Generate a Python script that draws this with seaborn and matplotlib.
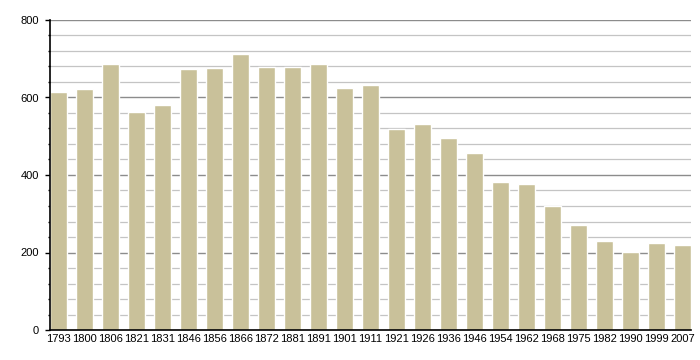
import matplotlib
matplotlib.use("Agg")
import matplotlib.pyplot as plt
import seaborn as sns
import pandas as pd

years = ["1793", "1800", "1806", "1821", "1831", "1846", "1856", "1866",
         "1872", "1881", "1891", "1901", "1911", "1921", "1926", "1936",
         "1946", "1954", "1962", "1968", "1975", "1982", "1990", "1999", "2007"]
population = [614, 622, 686, 562, 581, 673, 677, 712,
              678, 678, 686, 624, 632, 519, 532, 495,
              457, 382, 377, 320, 271, 230, 201, 225, 219]

df = pd.DataFrame({"year": years, "pop": population})

sns.set_style("white")
plt.rcParams['font.family'] = ['Liberation Sans', 'DejaVu Sans']

fig = plt.figure(figsize=(7, 3.6), dpi=100)
ax = fig.add_axes([50 / 700, 30 / 360, 641 / 700, 310 / 360])

# grid lines: light every 40, darker every 200
for v in range(40, 801, 40):
    if v % 200 == 0:
        ax.axhline(v, color="#8c8c8c", lw=1.0, zorder=0)
    else:
        ax.axhline(v, color="#c4c4c4", lw=0.9, zorder=0)

sns.barplot(data=df, x="year", y="pop", color="#c9c19a", width=0.64,
            saturation=1, ax=ax, zorder=2)

n = len(years)
ax.set_xlim(-0.33, n - 1 + 0.33)
ax.set_ylim(0, 800)
ax.set_yticks(range(0, 801, 200))
ax.set_yticks(range(0, 801, 40), minor=True)
ax.tick_params(axis="y", which="major", left=True, length=3.6, width=1,
               color="black", labelcolor="black", labelsize=8, pad=4.5,
               direction="out")
ax.tick_params(axis="y", which="minor", left=True, length=1.8, width=1,
               color="black", direction="out")
ax.tick_params(axis="x", bottom=False, length=0, labelsize=8,
               labelcolor="black", pad=3)

ax.set_xlabel("")
ax.set_ylabel("")
for s in ["top", "right"]:
    ax.spines[s].set_visible(False)
ax.spines["left"].set_color("black")
ax.spines["bottom"].set_color("black")
ax.spines["left"].set_linewidth(1.2)
ax.spines["bottom"].set_linewidth(1.2)

fig.savefig("out.png", dpi=100)
